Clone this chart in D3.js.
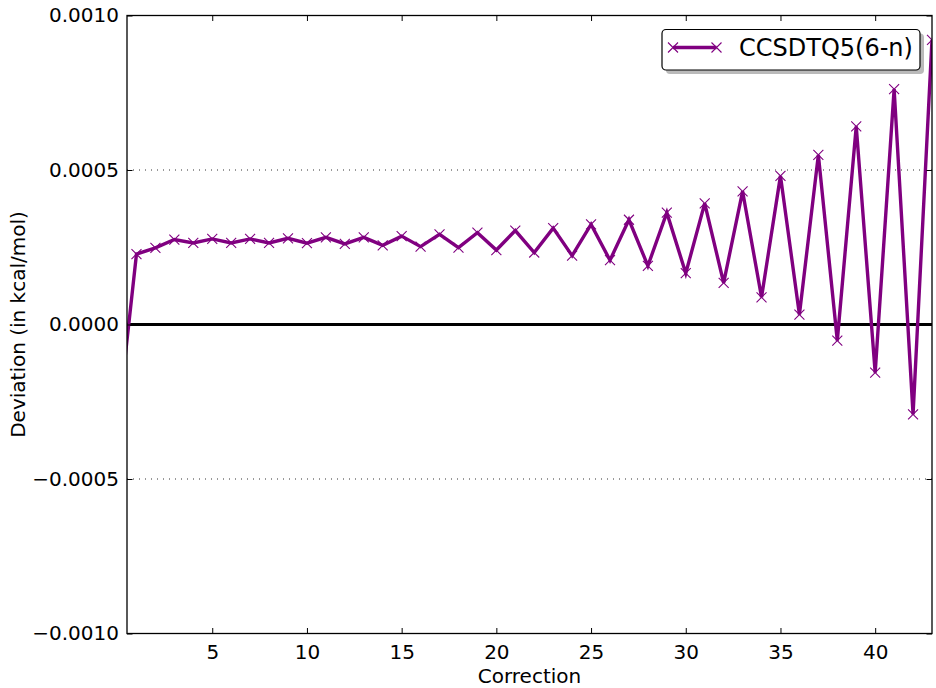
<!DOCTYPE html>
<html>
<head>
<meta charset="utf-8">
<script src="https://cdn.jsdelivr.net/npm/d3@7"></script>
<style>
  html, body { margin: 0; padding: 0; background: #fff; }
  svg { display: block; font-family: "DejaVu Sans", sans-serif; }
</style>
</head>
<body>
<svg id="chart" width="936" height="688"></svg>
<script>
// ---- data ----
const corrections = d3.range(0, 44);
const seriesName = "CCSDTQ5(6-n)";
const deviations = [
  -0.00033, 0.000228, 0.000248, 0.000275, 0.000264, 0.000277, 0.000264, 0.000277,
  0.000264, 0.000279, 0.000263, 0.000282, 0.000261, 0.000282, 0.000256, 0.000286,
  0.000252, 0.000292, 0.000249, 0.000297, 0.000241, 0.000304, 0.000233, 0.000312,
  0.000223, 0.000324, 0.000208, 0.000339, 0.000190, 0.000362, 0.000166, 0.000392,
  0.000135, 0.000431, 0.000088, 0.000481, 0.000032, 0.000549, -0.000052, 0.000641,
  -0.000156, 0.000762, -0.000291, 0.000921
];
const xTicks = [5, 10, 15, 20, 25, 30, 35, 40];
const yTicks = [-0.001, -0.0005, 0, 0.0005, 0.001];
const yGrid = [-0.0005, 0.0005];
const xLabel = "Correction";
const yLabel = "Deviation (in kcal/mol)";

// ---- layout ----
const svg = d3.select("#chart");
const L = 127, R = 932, T = 15.5, B = 633.5;
const color = "#800080";

const x = d3.scaleLinear().domain([0.5, 43]).range([L, R]);
const y = d3.scaleLinear().domain([-0.001, 0.001]).range([B, T]);

svg.append("defs").append("clipPath").attr("id", "clip")
  .append("rect").attr("x", L).attr("y", T).attr("width", R - L).attr("height", B - T);

// grid (dotted)
svg.append("g").selectAll("line").data(yGrid).join("line")
  .attr("x1", L).attr("x2", R)
  .attr("y1", d => y(d)).attr("y2", d => y(d))
  .attr("stroke", "#333").attr("stroke-width", 1)
  .attr("stroke-dasharray", "1,5");

// zero line
svg.append("line")
  .attr("x1", L).attr("x2", R).attr("y1", y(0)).attr("y2", y(0))
  .attr("stroke", "#000").attr("stroke-width", 3);

// data line
const pts = corrections.map((c, i) => ({ c, v: deviations[i] }));
const plot = svg.append("g").attr("clip-path", "url(#clip)");
plot.append("path")
  .datum(pts)
  .attr("d", d3.line().x(d => x(d.c)).y(d => y(d.v)))
  .attr("fill", "none").attr("stroke", color).attr("stroke-width", 3.4)
  .attr("stroke-linejoin", "miter");

const ms = 5;
const markerPath = (cx, cy) => `M${cx - ms},${cy - ms}L${cx + ms},${cy + ms}M${cx - ms},${cy + ms}L${cx + ms},${cy - ms}`;
plot.append("g").selectAll("path").data(pts).join("path")
  .attr("d", d => markerPath(x(d.c), y(d.v)))
  .attr("stroke", color).attr("stroke-width", 1.1).attr("fill", "none");

// axes (inside ticks, mirrored)
const fmt = d3.format(".4f");
const tickLen = 5.5;
const axB = svg.append("g").attr("transform", `translate(0,${B})`)
  .call(d3.axisBottom(x).tickValues(xTicks).tickSize(-tickLen).tickPadding(11).tickFormat(d3.format("d")));
const axT = svg.append("g").attr("transform", `translate(0,${T})`)
  .call(d3.axisTop(x).tickValues(xTicks).tickSize(-tickLen).tickFormat(""));
const axL = svg.append("g").attr("transform", `translate(${L},0)`)
  .call(d3.axisLeft(y).tickValues(yTicks).tickSize(-tickLen).tickPadding(7).tickFormat(fmt));
const axR = svg.append("g").attr("transform", `translate(${R},0)`)
  .call(d3.axisRight(y).tickValues(yTicks).tickSize(-tickLen).tickFormat(""));
[axB, axT, axL, axR].forEach(a => {
  a.select(".domain").remove();
  a.selectAll(".tick line").attr("stroke", "#000").attr("stroke-width", 1);
  a.selectAll(".tick text").attr("font-size", 20).attr("font-family", "DejaVu Sans").attr("fill", "#000");
});
axL.selectAll(".tick text").attr("dx", "-1");

// frame
svg.append("rect").attr("x", L).attr("y", T).attr("width", R - L).attr("height", B - T)
  .attr("fill", "none").attr("stroke", "#000").attr("stroke-width", 1.3);

// axis labels
svg.append("text").attr("x", (L + R) / 2).attr("y", 683)
  .attr("text-anchor", "middle").attr("font-size", 20).text(xLabel);
svg.append("text").attr("transform", `translate(25,${(T + B) / 2}) rotate(-90)`)
  .attr("text-anchor", "middle").attr("font-size", 20).text(yLabel);

// legend
const lg = svg.append("g");
const lx = 662, ly = 29.5, lw = 258, lh = 40.5;
lg.append("rect").attr("x", lx + 4).attr("y", ly + 4).attr("width", lw).attr("height", lh)
  .attr("rx", 4).attr("fill", "#8c8c8c").attr("opacity", 0.6);
lg.append("rect").attr("x", lx).attr("y", ly).attr("width", lw).attr("height", lh)
  .attr("rx", 4).attr("fill", "#fff").attr("stroke", "#000").attr("stroke-width", 1.2);
const lyMid = 47.5, lx1 = 673, lx2 = 716.5;
lg.append("line").attr("x1", lx1).attr("x2", lx2).attr("y1", lyMid).attr("y2", lyMid)
  .attr("stroke", color).attr("stroke-width", 3.4);
lg.selectAll("path.m").data([lx1, lx2]).join("path").attr("class", "m")
  .attr("d", d => markerPath(d, lyMid))
  .attr("stroke", color).attr("stroke-width", 1.1).attr("fill", "none");
lg.append("text").attr("x", 739).attr("y", 56).attr("font-size", 24).text(seriesName);
</script>
</body>
</html>
